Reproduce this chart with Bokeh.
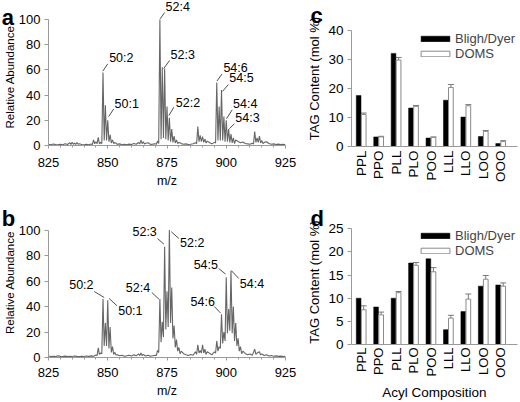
import math
import numpy as np
from bokeh.plotting import figure
from bokeh.layouts import column, row
from bokeh.models import (Range1d, FixedTicker, Legend, LegendItem,
                          Whisker, TeeHead, ColumnDataSource)
from bokeh.embed import file_html
from bokeh.resources import INLINE
from bokeh.core.properties import value

FONT = "Liberation Sans"

# ---------------- data: mass spectra ----------------
mz_a = [825, 826, 827, 828, 829, 830, 831, 832, 833, 834, 834.5, 835, 835.5, 836, 836.5, 837, 837.5, 838, 839, 840,
        841, 842, 843, 843.5, 844, 844.5, 845, 845.5, 846, 846.5, 847, 847.5, 848, 848.5, 849, 849.5, 850, 850.5, 851, 851.5,
        852, 852.5, 853, 854, 855, 856, 857, 858, 859, 860, 861, 862, 863, 863.5, 864, 864.5, 865, 865.5, 866, 867,
        868, 869, 870, 870.5, 871, 871.5, 872, 872.5, 873, 873.5, 874, 874.5, 875, 875.5, 876, 876.5, 877, 877.5, 878, 878.5,
        879, 879.5, 880, 881, 882, 883, 884, 885, 886, 887, 887.5, 888, 888.5, 889, 889.5, 890, 890.5, 891, 891.5, 892,
        893, 894, 895, 895.5, 896, 896.5, 897, 897.5, 898, 898.5, 899, 899.5, 900, 900.5, 901, 901.5, 902, 902.5, 903, 903.5,
        904, 905, 906, 907, 908, 909, 910, 911, 911.5, 912, 912.5, 913, 913.5, 914, 914.5, 915, 915.5, 916, 917, 918,
        919, 920, 921, 922, 923, 924, 925]
ab_a = [1.0, 0.6, 1.2, 0.7, 0.5, 1.0, 0.6, 1.4, 0.8, 2.2, 0.9, 2.6, 1.0, 1.8, 0.8, 2.3, 1.0, 1.4, 0.8, 0.5,
        0.9, 0.6, 1.2, 0.8, 4.5, 1.4, 3.0, 1.5, 6.5, 1.2, 2.5, 1.5, 58, 4, 32, 4, 20, 3, 8.5, 2,
        4.5, 1.5, 2.5, 1.0, 1.3, 0.6, 0.9, 0.5, 1.1, 0.8, 1.6, 1.0, 2.4, 1.2, 4.2, 1.5, 3.0, 1.2, 1.8, 2.2,
        0.9, 1.1, 1.4, 1.0, 3.5, 1.5, 100, 5, 62, 6, 61, 5, 31, 4, 22, 3, 13, 2.5, 7.5, 2,
        4.5, 1.5, 2.5, 1.5, 1.0, 1.3, 0.8, 1.0, 1.4, 2.2, 1.5, 15, 3, 8, 3, 7, 2.5, 5, 2, 3.5,
        2.2, 1.3, 2.5, 2, 50, 4, 31, 4, 44, 4, 23, 3, 20, 3, 13, 2.5, 9, 2, 6, 1.5,
        4.5, 3.2, 2.2, 2.8, 1.6, 1.3, 1.0, 1.8, 1.2, 11, 2.5, 6, 2.5, 7.5, 2, 4, 1.5, 2.5, 3, 1.6,
        1.0, 1.3, 0.8, 1.1, 0.7, 0.9, 0.6]

mz_b = [825, 826, 827, 828, 829, 830, 831, 832, 833, 834, 835, 836, 837, 838, 839, 840, 841, 842, 843, 844,
        845, 845.5, 846, 846.5, 847, 847.5, 848, 848.5, 849, 849.5, 850, 850.5, 851, 851.5, 852, 852.5, 853, 853.5, 854, 855,
        856, 857, 858, 859, 860, 861, 862, 863, 863.5, 864, 864.5, 865, 866, 867, 868, 869, 870, 870.5, 871, 871.5,
        872, 872.5, 873, 873.5, 874, 874.5, 875, 875.5, 876, 876.5, 877, 877.5, 878, 878.5, 879, 879.5, 880, 880.5, 881, 882,
        883, 884, 885, 886, 887, 887.5, 888, 888.5, 889, 889.5, 890, 890.5, 891, 891.5, 892, 893, 894, 895, 895.5, 896,
        896.5, 897, 897.5, 898, 898.5, 899, 899.5, 900, 900.5, 901, 901.5, 902, 902.5, 903, 903.5, 904, 904.5, 905, 905.5, 906,
        906.5, 907, 908, 909, 910, 911, 912, 912.5, 913, 914, 914.5, 915, 916, 917, 918, 919, 920, 921, 922, 923,
        924, 925]
ab_b = [1.2, 0.8, 1.0, 0.7, 1.3, 0.9, 0.8, 1.1, 0.7, 1.0, 0.8, 1.2, 0.9, 0.7, 1.0, 0.8, 1.2, 0.9, 1.3, 1.0,
        2.0, 1.5, 7.5, 2.5, 3.5, 3, 46, 9, 27, 9, 45, 7, 24, 4, 8.5, 2.5, 4, 2, 2.2, 1.4,
        1.8, 1.0, 1.3, 1.8, 1.1, 2.2, 1.3, 2.8, 1.5, 3.5, 1.6, 2.4, 1.2, 1.8, 1.0, 1.4, 1.8, 1.5, 5.5, 4,
        46, 12, 28, 16, 87, 22, 52, 24, 100, 27, 55, 15, 25, 8, 14, 5, 8, 3, 5, 3,
        2.2, 1.6, 2.4, 1.8, 4.5, 2.5, 10, 3.5, 5.5, 3.5, 10, 3.5, 6.5, 2.5, 4.5, 3.2, 2.2, 4.5, 3.5, 13,
        5, 8.5, 7, 34, 11, 20, 13, 63, 19, 38, 21, 68, 19, 40, 13, 27, 9, 15, 5, 8.5,
        3, 5, 3.2, 2.2, 2.8, 1.7, 6.5, 2.5, 3.5, 4.5, 2, 2.8, 1.6, 2.2, 1.2, 1.6, 1.0, 1.3, 0.9, 1.1,
        0.8, 0.9]

mz_ticks = [825, 850, 875, 900, 925]
ab_ticks = [0, 20, 40, 60, 80, 100]

# peak annotations (text, text x, text y, leader x0, y0, x1, y1, align)
ann_a = [
    ("50:2", 850.6, 69.6, 847.9, 59.0, 850.0, 64.8, "left"),
    ("50:1", 852.9, 33.3, 850.4, 23.0, 852.5, 29.0, "left"),
    ("52:4", 874.4, 110.0, 872.1, 100.5, 874.0, 105.5, "left"),
    ("52:3", 876.5, 72.0, 873.6, 61.0, 876.1, 67.5, "left"),
    ("52:2", 878.7, 33.9, 875.8, 23.8, 877.9, 30.4, "left"),
    ("54:6", 898.8, 61.5, 896.1, 51.2, 898.2, 56.7, "left"),
    ("54:5", 901.3, 53.2, 898.4, 42.9, 900.9, 48.4, "left"),
    ("54:4", 902.9, 33.1, 900.1, 21.2, 902.5, 28.3, "left"),
    ("54:3", 903.8, 21.8, 901.3, 13.3, 903.4, 17.2, "left"),
]
ann_b = [
    ("50:2", 844.0, 56.8, 844.3, 51.8, 848.5, 47.1, "right"),
    ("50:1", 854.4, 36.7, 850.6, 46.3, 853.9, 40.6, "left"),
    ("52:4", 867.9, 54.9, 868.6, 51.0, 871.6, 45.8, "right"),
    ("52:3", 870.7, 98.7, 871.0, 93.4, 873.7, 89.0, "right"),
    ("52:2", 880.5, 89.8, 876.8, 98.7, 880.0, 93.4, "left"),
    ("54:5", 896.5, 72.5, 896.8, 69.9, 899.7, 65.5, "right"),
    ("54:4", 905.7, 57.6, 902.2, 68.1, 905.3, 62.0, "left"),
    ("54:6", 895.2, 43.7, 895.0, 40.0, 897.6, 34.9, "right"),
]

# ---------------- data: TAG composition ----------------
acyl = ["PPL", "PPO", "PLL", "PLO", "POO", "LLL", "LLO", "LOO", "OOO"]
bd_c = [17.5, 3.3, 32.0, 13.2, 2.9, 15.9, 10.1, 3.45, 1.0]
doms_c = [11.0, 3.3, 29.7, 13.8, 3.1, 20.3, 14.0, 5.2, 1.7]
doms_c_err = [0.5, 0.2, 0.9, 0.3, 0.2, 1.0, 0.4, 0.3, 0.3]
bd_d = [10.0, 8.1, 10.0, 17.6, 18.5, 3.2, 7.1, 12.6, 12.85]
doms_d = [7.5, 6.4, 11.2, 17.1, 15.7, 5.7, 9.8, 14.1, 12.6]
doms_d_err = [0.85, 0.6, 0.25, 0.6, 0.9, 0.6, 1.1, 0.8, 0.7]
c_ticks = [0, 10, 20, 30, 40]
d_ticks = [0, 5, 10, 15, 20, 25]

AXIS_COL = "#9a9a9a"


def letter_glyph(p, text, x, y):
    # panel letter drawn above the frame clip (overlay level)
    p.text(x=[x], y=[y], text=[text], text_font=value(FONT), text_font_size="22px",
           text_font_style="bold", text_color="black", text_align="left",
           text_baseline="alphabetic", level="overlay")


def make_spectrum(mz, ab, ann, height, top, bottom, y_end, tick_standoff):
    p = figure(width=300, height=height, output_backend="svg", toolbar_location=None,
               x_range=Range1d(825, 925), y_range=Range1d(0, y_end),
               min_border_left=47, min_border_right=15, min_border_top=top,
               min_border_bottom=bottom)
    p.outline_line_color = None
    p.grid.visible = False
    p.line(mz, ab, line_color="#666666", line_width=1.1)

    p.segment(x0=[a[3] for a in ann], y0=[a[4] for a in ann],
              x1=[a[5] for a in ann], y1=[a[6] for a in ann],
              line_color="#222222", line_width=0.8, level="overlay")
    for al in ("left", "right"):
        sub = [a for a in ann if a[7] == al]
        if sub:
            p.text(x=[a[1] for a in sub], y=[a[2] for a in sub], text=[a[0] for a in sub],
                   text_font=value(FONT), text_font_size="12.5px", text_color="black",
                   text_align=al, text_baseline="middle", level="overlay")

    xa = p.xaxis[0]
    xa.ticker = FixedTicker(ticks=mz_ticks, minor_ticks=list(range(825, 926, 5)))
    xa.bounds = (825, 925)
    xa.axis_label = "m/z"
    xa.axis_label_text_font = FONT
    xa.axis_label_text_font_size = "12.5px"
    xa.axis_label_text_font_style = "normal"
    xa.axis_label_standoff = 4
    xa.major_label_text_font = FONT
    xa.major_label_text_font_size = "13px"
    xa.major_label_standoff = tick_standoff
    xa.major_tick_out = 3
    xa.major_tick_in = 0
    xa.minor_tick_out = 2
    xa.minor_tick_in = 0

    ya = p.yaxis[0]
    ya.ticker = FixedTicker(ticks=ab_ticks, minor_ticks=[])
    ya.bounds = (0, 100)
    ya.axis_label = "Relative Abundance"
    ya.axis_label_text_font = FONT
    ya.axis_label_text_font_size = "11.5px"
    ya.axis_label_text_font_style = "normal"
    ya.axis_label_standoff = 0
    ya.major_label_text_font = FONT
    ya.major_label_text_font_size = "13px"
    ya.major_label_standoff = 4
    ya.major_tick_out = 4
    ya.major_tick_in = 0
    ya.minor_tick_out = 0
    for ax in (xa, ya):
        ax.axis_line_color = AXIS_COL
        ax.major_tick_line_color = AXIS_COL
        ax.minor_tick_line_color = AXIS_COL
        ax.major_label_text_color = "black"
        ax.axis_label_text_color = "black"
    return p


def make_bars(bd, doms, err, ticks, height, top, bottom, y_end, xlabel, leg_y):
    p = figure(width=220, height=height, output_backend="svg", toolbar_location=None,
               x_range=Range1d(-0.56, 8.96), y_range=Range1d(0, y_end),
               min_border_left=51, min_border_right=3, min_border_top=top,
               min_border_bottom=bottom)
    p.outline_line_color = None
    p.grid.visible = False
    idx = np.arange(len(acyl))
    doms_a = np.array(doms, dtype=float)
    err_a = np.array(err, dtype=float)
    src = ColumnDataSource(dict(x=idx + 0.14, top=doms_a,
                                upper=doms_a + err_a, lower=doms_a - err_a))
    wh = Whisker(source=src, base="x", upper="upper", lower="lower", dimension="height",
                 line_color="#7a7a7a", line_width=1, level="underlay",
                 upper_head=TeeHead(size=6, line_color="#7a7a7a", line_width=1),
                 lower_head=None)
    p.add_layout(wh)
    r1 = p.vbar(x=idx - 0.15, top=bd, width=0.27, fill_color="black", line_color="black",
                line_width=0.5)
    r2 = p.vbar(x="x", top="top", source=src, width=0.27, fill_color="white",
                line_color="#8a8a8a", line_width=1)

    for lab, rend, vy in (("Bligh/Dyer", r1, leg_y[0]), ("DOMS", r2, leg_y[1])):
        lg = Legend(items=[LegendItem(label=lab, renderers=[rend])],
                    location=(66, vy), border_line_color=None,
                    background_fill_alpha=0, padding=0, spacing=0, margin=0,
                    glyph_width=36, glyph_height=7, label_standoff=2,
                    label_text_font=FONT, label_text_font_size="13px", label_height=14)
        p.add_layout(lg)

    xa = p.xaxis[0]
    xa.ticker = FixedTicker(ticks=list(range(len(acyl))), minor_ticks=[])
    xa.major_label_overrides = {i: n for i, n in enumerate(acyl)}
    xa.major_label_orientation = math.pi / 2
    xa.major_tick_line_color = None
    xa.minor_tick_line_color = None
    xa.major_tick_out = 0
    xa.major_tick_in = 0
    xa.minor_tick_out = 0
    xa.minor_tick_in = 0
    xa.major_label_standoff = 4
    xa.major_label_text_font = FONT
    xa.major_label_text_font_size = "13.5px"
    if xlabel:
        xa.major_label_standoff = 3
        xa.major_label_text_font_size = "13px"
        xa.axis_label = xlabel
        xa.axis_label_text_font = FONT
        xa.axis_label_text_font_size = "13.5px"
        xa.axis_label_text_font_style = "normal"
        xa.axis_label_standoff = 4

    ya = p.yaxis[0]
    ya.ticker = FixedTicker(ticks=ticks, minor_ticks=[])
    ya.bounds = (ticks[0], ticks[-1])
    ya.axis_label = "TAG Content (mol %)"
    ya.axis_label_text_font = FONT
    ya.axis_label_text_font_size = "13px"
    ya.axis_label_text_font_style = "normal"
    ya.axis_label_standoff = 3
    ya.major_label_text_font = FONT
    ya.major_label_text_font_size = "13.5px"
    ya.major_label_standoff = 4
    ya.major_tick_out = 4
    ya.major_tick_in = 0
    ya.minor_tick_out = 0
    for ax in (xa, ya):
        ax.axis_line_color = AXIS_COL
        ax.major_label_text_color = "black"
        ax.axis_label_text_color = "black"
    ya.major_tick_line_color = AXIS_COL
    return p


# frame geometry: a 8..145 px, b 207..357 px, c 10..146 px, d 219..345 px
pa = make_spectrum(mz_a, ab_a, ann_a, height=195, top=8, bottom=50, y_end=137 / 1.26,
                   tick_standoff=9)
pb = make_spectrum(mz_b, ab_b, ann_b, height=207, top=12, bottom=45, y_end=150 / 1.274,
                   tick_standoff=7)
pc = make_bars(bd_c, doms_c, doms_c_err, c_ticks, height=195, top=10, bottom=49,
               y_end=136 / 2.91, xlabel=None, leg_y=(100, 85))
pd = make_bars(bd_d, doms_d, doms_d_err, d_ticks, height=207, top=24, bottom=57,
               y_end=126 / 4.668, xlabel="Acyl Composition", leg_y=(101, 86.5))

letter_glyph(pa, "a", 825 - 47 / 2.38, 101.6)
letter_glyph(pb, "b", 825 - 47 / 2.38, 108.9)
letter_glyph(pc, "c", -0.56 - 41 / 17.44, 45.0)
letter_glyph(pd, "d", -0.56 - 41 / 17.44, 27.3)

layout = row(column(pa, pb), column(pc, pd))
open("out.html", "w").write(file_html(layout, INLINE))
